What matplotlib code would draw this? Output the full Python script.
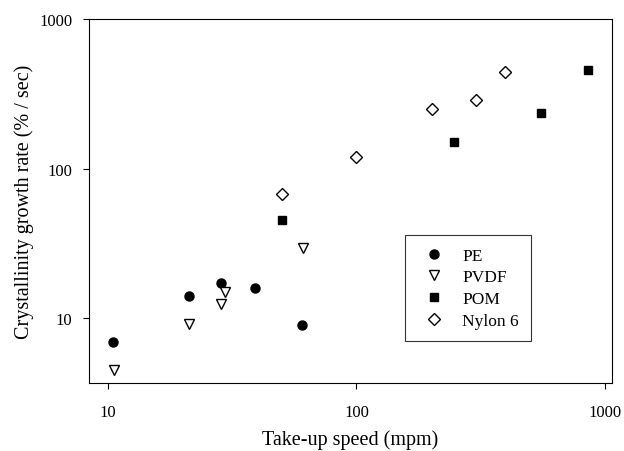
import numpy as np
import matplotlib
matplotlib.use('Agg')
import matplotlib.pyplot as plt

plt.rcParams['font.family'] = 'Liberation Serif'

# values (take-up speed in mpm, growth rate in %/sec)
pe_speed = [10.5, 21.2, 28.4, 39.2, 60.5]
pe_rate = [6.9, 14.0, 17.1, 15.8, 8.9]
pvdf_speed = [10.6, 21.2, 28.4, 29.6, 60.7]
pvdf_rate = [4.5, 9.1, 12.4, 15.0, 29.6]
pom_speed = [50.0, 248, 552, 857]
pom_rate = [45.6, 150, 234, 456]
nylon_speed = [50.0, 100, 201, 303, 398]
nylon_rate = [67.4, 120.5, 249, 287, 447]

fig = plt.figure(figsize=(6.24, 4.52), dpi=100)
ax = fig.add_axes([0.1426, 0.150, 0.838, 0.805])

ax.plot(pe_speed, pe_rate, 'o', color='black', markersize=6.5, label='PE')
ax.plot(pvdf_speed, pvdf_rate, 'v', markerfacecolor='white', markeredgecolor='black',
        markeredgewidth=1.0, markersize=6.5, label='PVDF')
ax.plot(pom_speed, pom_rate, 's', color='black', markersize=5.8, label='POM')
ax.plot(nylon_speed, nylon_rate, 'D', markerfacecolor='white', markeredgecolor='black',
        markeredgewidth=1.0, markersize=5.8, label='Nylon 6')

ax.set_xscale('log')
ax.set_yscale('log')
ax.set_xlim(8.38, 1067)
ax.set_ylim(3.65, 1000)
ax.set_xticks([10, 100, 1000])
ax.set_xticklabels(['10', '100', '1000'])
ax.set_yticks([10, 100, 1000])
ax.set_yticklabels(['10', '100', '1000'])
ax.minorticks_off()
ax.tick_params(direction='out', length=4, width=0.8, labelsize=12, pad=8)
ax.tick_params(axis='x', pad=11)

for s in ax.spines.values():
    s.set_linewidth(0.8)

ax.set_xlabel('Take-up speed (mpm)', fontsize=14.5, labelpad=7)
ax.set_ylabel('Crystallinity growth rate (% / sec)', fontsize=14.5, labelpad=4)

leg = ax.legend(loc='lower left', bbox_to_anchor=(0.604, 0.116, 0.241, 0.286),
                fontsize=12.5, frameon=True, fancybox=False, handletextpad=0.6,
                borderpad=0.7, labelspacing=0.32, handlelength=2.0, borderaxespad=0)
leg.get_frame().set_edgecolor('black')
leg.get_frame().set_linewidth(0.8)

fig.savefig('out.png', dpi=100)
